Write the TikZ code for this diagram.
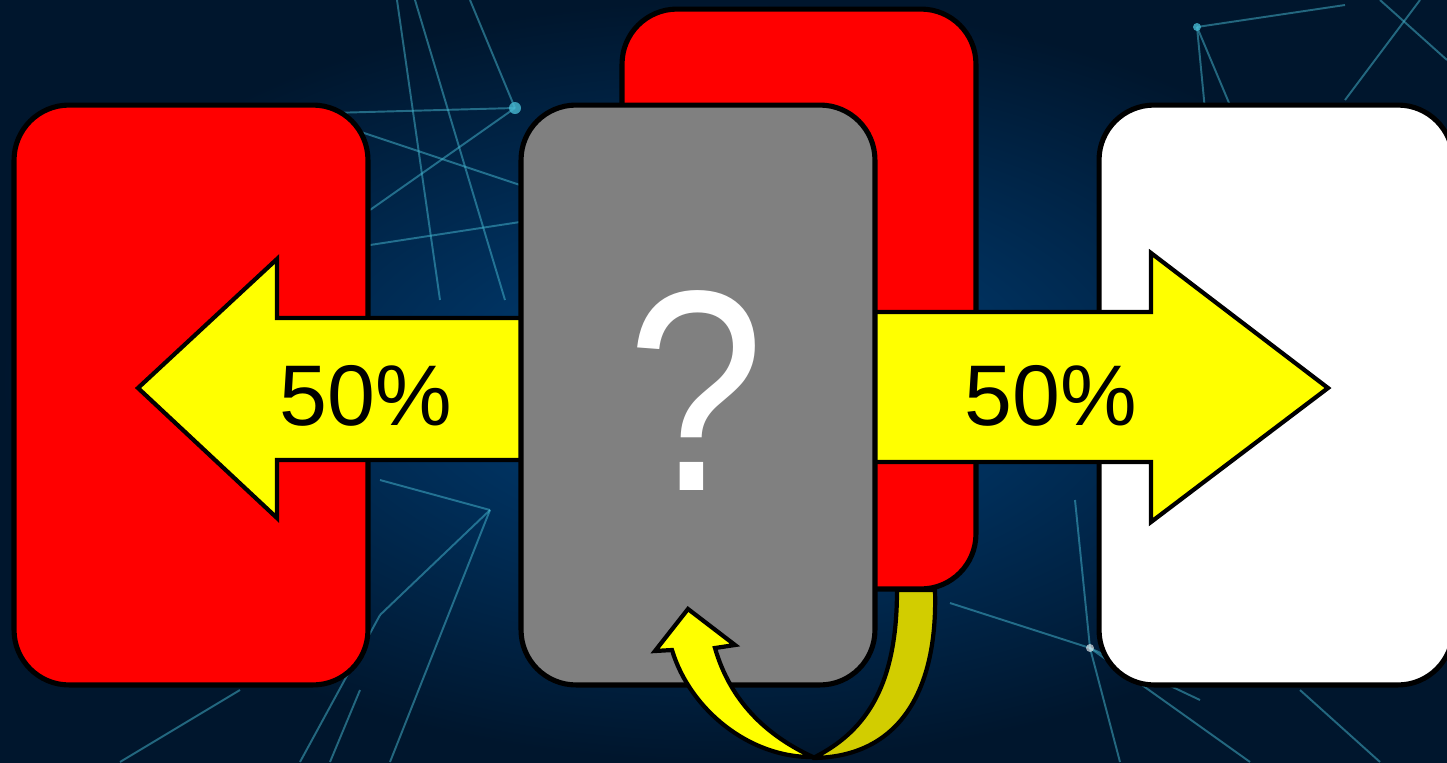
\documentclass[tikz,border=0pt]{standalone}
\usepackage{fontspec}
\setmainfont{Liberation Sans}
\begin{document}
\begin{tikzpicture}[x=0.02cm,y=-0.02cm,
  card/.style={draw=black,line width=2.9pt,rounded corners=1.1cm,minimum width=7.08cm,minimum height=11.6cm,inner sep=0pt},
  blockarrow/.style={draw=black,line width=2.4pt,line join=miter,fill=arrowyellow},
  net/.style={draw=netcyan,line width=1.1pt,opacity=0.5},
  pct/.style={font=\fontsize{49}{49}\selectfont,text=black,inner sep=0pt,anchor=base},
]
\definecolor{bgdark}{RGB}{0,22,45}
\definecolor{bglight}{RGB}{0,66,125}
\definecolor{netcyan}{RGB}{70,185,210}
\definecolor{arrowyellow}{RGB}{255,255,0}
\definecolor{darkyellow}{RGB}{210,205,0}
\definecolor{cardgray}{RGB}{128,128,128}
\useasboundingbox (0,0) rectangle (1447,762);
\clip (0,0) rectangle (1447,762);
% background
\shade[inner color=bglight,outer color=bgdark] (0,0) rectangle (1447,762);
% network lines
\coordinate (n1) at (515,108);
\coordinate (n2) at (1197,27);
\coordinate (n3) at (1090,648);
\coordinate (n4) at (380,615);
\coordinate (n5) at (490,510);
\path[net] (397,0) -- (440,300);
\path[net] (415,0) -- (505,300);
\path[net] (330,113) -- (n1);
\path[net] (340,125) -- (520,185);
\path[net] (370,210) -- (n1);
\path[net] (370,245) -- (520,222);
\path[net] (n1) -- (470,0);
\path[net] (n2) -- (1345,5);
\path[net] (n2) -- (1205,110);
\path[net] (n2) -- (1232,110);
\path[net] (1345,100) -- (1420,0);
\path[net] (1380,0) -- (1447,60);
\path[net] (950,603) -- (n3);
\path[net] (n3) -- (1075,500);
\path[net] (n3) -- (1120,762);
\path[net] (n3) -- (1250,762);
\path[net] (n3) -- (1200,700);
\path[net] (n4) -- (n5);
\path[net] (n4) -- (300,762);
\path[net] (n5) -- (390,762);
\path[net] (n5) -- (380,480);
\path[net] (360,690) -- (330,762);
\path[net] (120,762) -- (240,690);
\path[net] (1300,690) -- (1380,762);
\fill[netcyan,opacity=0.8] (n1) circle (6);
\fill[netcyan,opacity=0.8] (n2) circle (4);
\fill[white,opacity=0.6] (n3) circle (4);
% cards behind
\node[card,fill=red] (leftcard) at (191,395) {};
\node[card,fill=red] (backcard) at (799,299) {};
\node[card,fill=white] (whitecard) at (1276,395) {};
% block arrows
\draw[blockarrow] (560,318) -- (277,318) -- (277,259) -- (138,388) -- (277,518) -- (277,460) -- (560,460) -- cycle;
\draw[blockarrow] (840,312) -- (1151,312) -- (1151,253) -- (1328,388) -- (1151,522) -- (1151,462) -- (840,462) -- cycle;
% back part of curved arrow
\draw[line width=2.4pt,fill=darkyellow,line join=round] (897,590) -- (935,590) .. controls (938,690) and (900,757) .. (813,758) .. controls (870,730) and (897,680) .. (897,590) -- cycle;
% gray card
\node[card,fill=cardgray] (graycard) at (698,395) {};
% front part of curved arrow
\draw[line width=2.4pt,fill=arrowyellow,line join=miter] (688,609) -- (735,645) -- (715,648) .. controls (730,700) and (765,735) .. (813,757) .. controls (750,758) and (690,710) .. (672,650) -- (655,651) -- cycle;
% texts
\node[pct] (pctleft) at (366,425) {50\%};
\node[pct] (pctright) at (1051,425) {50\%};
\node[font=\fontsize{163}{163}\selectfont,text=white,inner sep=0pt,anchor=base] (qmark) at (696,490) {\scalebox{0.86}[1]{?}};
\end{tikzpicture}
\end{document}
